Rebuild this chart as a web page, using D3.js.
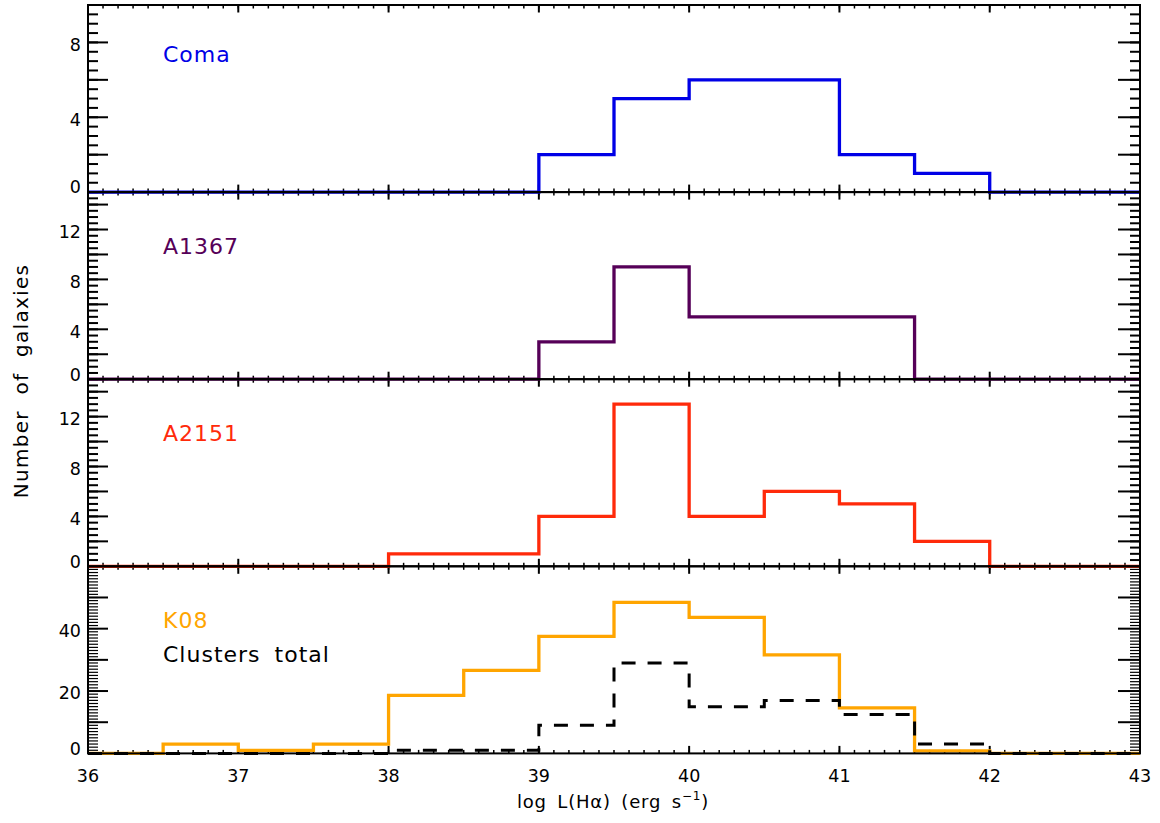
<!DOCTYPE html>
<html><head><meta charset="utf-8">
<script src="https://cdn.jsdelivr.net/npm/d3@7"></script>
<style>body{margin:0;background:#fff}svg{display:block}text{font-family:"DejaVu Sans",sans-serif}</style>
</head><body><svg id="c" width="1160" height="823"></svg>
<script>
// ---- data ----
const binLeft = [36,36.5,37,37.5,38,38.5,39,39.5,40,40.5,41,41.5,42,42.5];
const binRightEnd = 43;
const coma = [0,0,0,0,0,0,2,5,6,6,2,1,0,0];
const a1367 = [0,0,0,0,0,0,3,9,5,5,5,0,0,0];
const a2151 = [0,0,0,0,1,1,4,13,4,6,5,2,0,0];
const k08 = [0,3,1,3,18.6,26.6,37.5,48.4,43.6,31.6,14.6,0.8,0,0];
const clustersTotal = [0,0,0,0,1,1,9,29,15,17,12.5,3,0,0];
const xTickLabels = [36,37,38,39,40,41,42,43];
const yLabels1 = [0,4,8];
const yLabels2 = [0,4,8,12];
const yLabels3 = [0,4,8,12];
const yLabels4 = [0,20,40];
const panelNames = ["Coma","A1367","A2151","K08"];

// ---- layout ----
const W=1160,H=823, L=88, R=1140, T=5, B=753.4;
const ph=(B-T)/4;
const svg=d3.select("#c");
const x=d3.scaleLinear().domain([36,43]).range([L,R]);

const panels=[
 {series:[{v:coma,c:"#0000e6"}], ymax:10, major:2, minor:0.5, labels:yLabels1, name:panelNames[0], nc:"#0000e6"},
 {series:[{v:a1367,c:"#560058"}], ymax:15, major:2, minor:0.5, labels:yLabels2, name:panelNames[1], nc:"#560058"},
 {series:[{v:a2151,c:"#ff2a0a"}], ymax:15, major:2, minor:0.5, labels:yLabels3, name:panelNames[2], nc:"#ff2a0a"},
 {series:[{v:k08,c:"#ffa500"},{v:clustersTotal,c:"#000",dash:"14,12"}], ymax:60, major:10, minor:1, labels:yLabels4, name:panelNames[3], nc:"#ffa500", extra:"Clusters total"}
];

const ax=svg.append("g");
const marks=svg.append("g");
const frame=svg.append("g");

panels.forEach((p,i)=>{
  const top=T+i*ph, bot=top+ph;
  const y=d3.scaleLinear().domain([0,p.ymax]).range([bot,top]);
  const minors=d3.range(0,p.ymax+1e-9,p.minor);
  const majors=d3.range(0,p.ymax+1e-9,p.major);
  const g=ax.append("g");
  g.selectAll(".ml").data(minors).join("line")
    .attr("x1",L).attr("x2",L+10).attr("y1",d=>y(d)).attr("y2",d=>y(d))
    .attr("stroke","#000").attr("stroke-width",p.minor===1?1.2:2);
  g.selectAll(".mr").data(minors).join("line")
    .attr("x1",R).attr("x2",R-10).attr("y1",d=>y(d)).attr("y2",d=>y(d))
    .attr("stroke","#000").attr("stroke-width",p.minor===1?1.2:2);
  g.selectAll(".Ml").data(majors).join("line")
    .attr("x1",L).attr("x2",L+20).attr("y1",d=>y(d)).attr("y2",d=>y(d))
    .attr("stroke","#000").attr("stroke-width",2);
  g.selectAll(".Mr").data(majors).join("line")
    .attr("x1",R).attr("x2",R-22).attr("y1",d=>y(d)).attr("y2",d=>y(d))
    .attr("stroke","#000").attr("stroke-width",2);
  g.selectAll(".yl").data(p.labels).join("text")
    .attr("x",81).attr("y",d=>y(d)+(d===0?-5:2)).attr("dy","0.36em")
    .attr("text-anchor","end").attr("font-size",17.5).text(d=>d);
  const xMin=d3.range(36,43.0001,0.1), xMaj=xTickLabels;
  [[top,1],[bot,-1]].forEach(([yy,dir])=>{
    g.append("g").selectAll("line").data(xMin).join("line")
      .attr("x1",d=>x(d)).attr("x2",d=>x(d)).attr("y1",yy).attr("y2",yy+dir*3.5)
      .attr("stroke","#000").attr("stroke-width",1.5);
    g.append("g").selectAll("line").data(xMaj).join("line")
      .attr("x1",d=>x(d)).attr("x2",d=>x(d)).attr("y1",yy).attr("y2",yy+dir*7.5)
      .attr("stroke","#000").attr("stroke-width",2);
  });
  const line=d3.line().x(d=>x(d[0])).y(d=>y(d[1])).curve(d3.curveStepAfter);
  p.series.forEach(s=>{
    const pts=binLeft.map((b,k)=>[b,s.v[k]]);
    pts.push([binRightEnd,s.v[s.v.length-1]]);
    marks.append("path").attr("d",line(pts)).attr("fill","none")
      .attr("stroke",s.c).attr("stroke-width",s.dash?3:3.3)
      .attr("stroke-dasharray",s.dash||null).attr("stroke-linejoin","miter");
  });
  svg.append("text").attr("x",163).attr("y",top+57+(i>0?5:0)).attr("font-size",22)
    .attr("letter-spacing","1px").attr("fill",p.nc).text(p.name);
  if(p.extra) svg.append("text").attr("x",163).attr("y",top+96).attr("font-size",22)
    .attr("letter-spacing","1px").attr("word-spacing","6px").attr("fill","#000").text(p.extra);
  frame.append("rect").attr("x",L).attr("y",top).attr("width",R-L).attr("height",ph)
    .attr("fill","none").attr("stroke","#000").attr("stroke-width",2);
});

svg.append("g").selectAll("text").data(xTickLabels).join("text")
  .attr("x",d=>x(d)).attr("y",782).attr("text-anchor","middle").attr("font-size",17.5).text(d=>d);

const xt=svg.append("text").attr("x",613).attr("y",808).attr("text-anchor","middle").attr("font-size",18)
  .attr("letter-spacing","0.8px").attr("word-spacing","4px");
xt.append("tspan").text("log L(H\u03b1) (erg s");
xt.append("tspan").attr("dy",-8).attr("font-size",12).text("\u22121");
xt.append("tspan").attr("dy",8).text(")");

svg.append("text").attr("transform","translate(28,381) rotate(-90)").attr("text-anchor","middle")
  .attr("font-size",20).attr("letter-spacing","1.3px").attr("word-spacing","8px").text("Number of galaxies");
</script></body></html>
